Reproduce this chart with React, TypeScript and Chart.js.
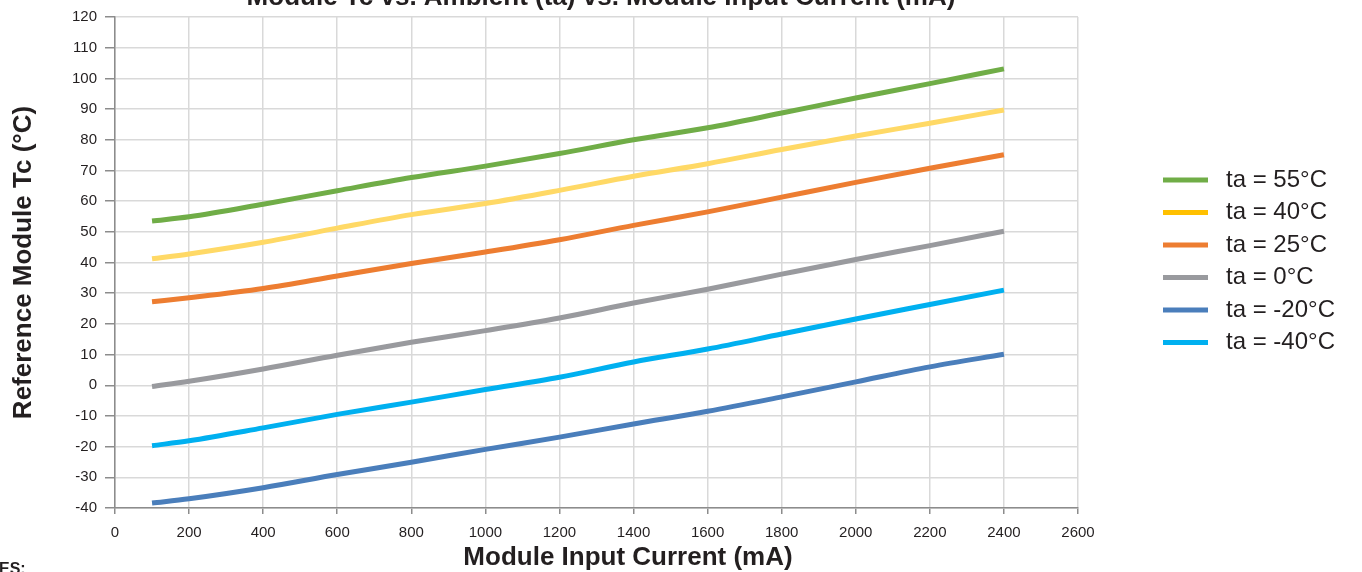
import React, { useEffect, useRef } from "react";
import { Chart, registerables } from "chart.js";

Chart.register(...registerables);

// ---- data ----
const currentMA = [100, 200, 400, 600, 800, 1000, 1200, 1400, 1600, 1800, 2000, 2200, 2400];

const ta55 = [53.5, 54.9, 59.0, 63.4, 67.7, 71.4, 75.5, 80.0, 83.9, 88.7, 93.6, 98.3, 103.1];
const ta40 = [41.2, 42.8, 46.6, 51.2, 55.6, 59.2, 63.5, 68.1, 72.2, 76.8, 81.2, 85.4, 89.7];
const ta25 = [27.2, 28.5, 31.5, 35.6, 39.7, 43.4, 47.4, 52.1, 56.5, 61.3, 66.1, 70.7, 75.1];
const ta0 = [-0.4, 1.3, 5.3, 9.8, 14.0, 17.8, 21.9, 26.8, 31.3, 36.2, 41.0, 45.5, 50.2];
const taMinus20 = [-38.4, -37.0, -33.4, -29.1, -25.1, -20.9, -16.9, -12.6, -8.5, -3.8, 1.1, 6.0, 10.1];
const taMinus40 = [-19.7, -18.1, -13.9, -9.5, -5.5, -1.4, 2.6, 7.6, 11.8, 16.7, 21.6, 26.3, 31.0];

const seriesLabels = ["ta = 55°C", "ta = 40°C", "ta = 25°C", "ta = 0°C", "ta = -20°C", "ta = -40°C"];
const seriesValues = [ta55, ta40, ta25, ta0, taMinus20, taMinus40];
const lineColors = ["#70AD47", "#FFD966", "#ED7D31", "#999A9E", "#4A7EBB", "#00B0F0"];
const legendColors = ["#70AD47", "#FFC000", "#ED7D31", "#999A9E", "#4A7EBB", "#00B0F0"];

const chartTitle = "Module Tc vs. Ambient (ta) vs. Module Input Current (mA)";
const xAxisTitle = "Module Input Current (mA)";
const yAxisTitle = "Reference Module Tc (°C)";
const notesFragment = "ES:";

const xMin = 0;
const xMax = 2600;
const xStep = 200;
const yMin = -40;
const yMax = 120;
const yStep = 10;

const FONT = '"Liberation Sans", Arial, Helvetica, sans-serif';
const TEXT = "#231F20";

const extrasPlugin = {
  id: "extras",
  afterDraw(chart: any) {
    const ctx = chart.ctx as CanvasRenderingContext2D;
    ctx.save();
    ctx.fillStyle = TEXT;
    // main title (cropped at top in the reference)
    ctx.font = `bold 26px ${FONT}`;
    ctx.textAlign = "center";
    ctx.textBaseline = "alphabetic";
    ctx.fillText(chartTitle, 601, 5);
    // x axis title
    ctx.textBaseline = "middle";
    ctx.fillText(xAxisTitle, 628, 558);
    // cropped note fragment
    ctx.font = `bold 16px ${FONT}`;
    ctx.textAlign = "left";
    ctx.textBaseline = "alphabetic";
    ctx.fillText(notesFragment, -1, 574);
    // legend
    ctx.font = `24px ${FONT}`;
    ctx.textBaseline = "middle";
    seriesLabels.forEach((lab, i) => {
      const y = 180 + i * 32.5;
      ctx.fillStyle = legendColors[i];
      ctx.fillRect(1163, y - 2.5, 45, 5);
      ctx.fillStyle = TEXT;
      ctx.fillText(lab, 1226, y);
    });
    ctx.restore();
  },
};

export default function App() {
  const canvasRef = useRef<HTMLCanvasElement | null>(null);

  useEffect(() => {
    if (!canvasRef.current) return;
    const datasets = seriesLabels.map((label, i) => ({
      label,
      data: currentMA.map((x, j) => ({ x, y: seriesValues[i][j] })),
      borderColor: lineColors[i],
      backgroundColor: lineColors[i],
      borderWidth: 5,
      pointRadius: 0,
      pointHoverRadius: 0,
      cubicInterpolationMode: "monotone",
      fill: false,
    }));

    const chart = new Chart(canvasRef.current, {
      type: "line",
      data: { datasets },
      options: {
        animation: false,
        responsive: false,
        events: [],
        layout: { padding: { top: 15, right: 284, bottom: 0, left: 0 } },
        plugins: {
          legend: { display: false },
          tooltip: { enabled: false },
          title: { display: false },
        },
        scales: {
          x: {
            type: "linear",
            min: xMin,
            max: xMax,
            afterFit: (scale: any) => {
              scale.height = 64;
            },
            ticks: {
              stepSize: xStep,
              color: TEXT,
              font: { family: FONT, size: 15 },
              padding: 10,
              maxRotation: 0,
              callback: (v: any) => String(v),
            },
            grid: {
              color: "#D9D9D9",
              lineWidth: 1.5,
              tickColor: "#8C8C8C",
              tickLength: 6,
              drawTicks: true,
            },
            border: { color: "#8C8C8C", width: 1.5 },
          },
          y: {
            type: "linear",
            min: yMin,
            max: yMax,
            afterFit: (scale: any) => {
              scale.width = 115;
            },
            ticks: {
              stepSize: yStep,
              color: TEXT,
              font: { family: FONT, size: 15 },
              padding: 8,
              callback: (v: any) => String(v),
            },
            grid: {
              color: "#D9D9D9",
              lineWidth: 1.5,
              tickColor: "#8C8C8C",
              tickLength: 10,
              drawTicks: true,
            },
            border: { color: "#8C8C8C", width: 1.5 },
            title: {
              display: true,
              text: yAxisTitle,
              color: TEXT,
              font: { family: FONT, size: 26, weight: "bold", lineHeight: 1 },
              padding: { top: 11, bottom: 0 },
            },
          },
        },
      },
      plugins: [extrasPlugin],
    } as any);

    return () => chart.destroy();
  }, []);

  return (
    <div
      style={{
        position: "absolute",
        left: 0,
        top: 0,
        width: 1362,
        height: 572,
        background: "#ffffff",
        overflow: "hidden",
      }}
    >
      <canvas ref={canvasRef} width={1362} height={572} style={{ width: 1362, height: 572, display: "block" }} />
    </div>
  );
}
